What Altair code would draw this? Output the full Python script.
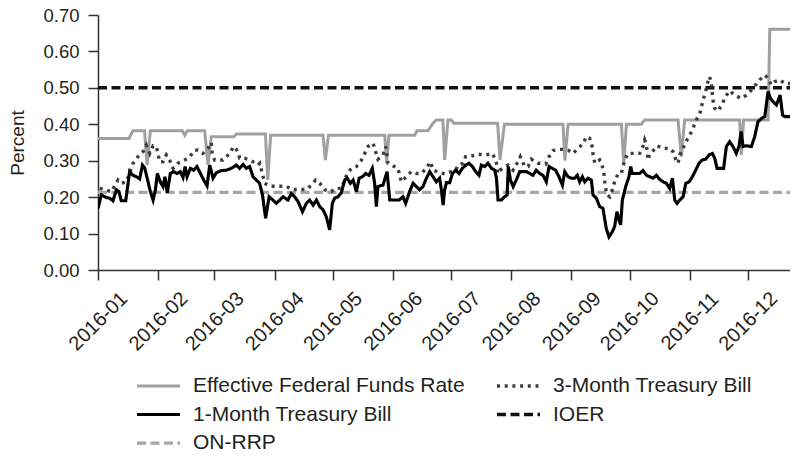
import altair as alt
import pandas as pd

START = "2016-01-01"

# legend is laid out column by column, so this order gives the reference's rows
series_order = ["Effective Federal Funds Rate", "1-Month Treasury Bill", "ON-RRP",
                "3-Month Treasury Bill", "IOER"]
series_colors = ["#a0a0a0", "#000000", "#a6a6a6", "#3c3c3c", "#111111"]
series_dash = [[1, 0], [1, 0], [9, 4.5], [3, 4.7], [9, 4.5]]
series_width = [3, 3.5, 3, 3, 2]

month_ticks = list(range(1, 13))
y_ticks = [0.0, 0.1, 0.2, 0.3, 0.4, 0.5, 0.6, 0.7]

# day offsets from 2016-01-01 and rates (percent)
effr_day = [0, 16, 18, 24, 25.3, 27, 43.5, 44.7, 46, 55, 56.7, 58.4, 70, 71.3, 86.3, 87.5, 89,
            116, 117.2, 118.8, 147.8, 148.8, 150, 163.2, 164.4, 170, 172.7, 174.4, 177.8, 178.7,
            180.4, 182, 183.4, 206, 207.2, 209.5, 239.7, 240.7, 242.3, 269.8, 271, 272.4, 280,
            281.8, 299, 300.7, 302.4, 330.8, 331.6, 332.8, 345.4, 346.3, 365]
effr_val = [0.361, 0.361, 0.382, 0.382, 0.288, 0.382, 0.382, 0.37, 0.382, 0.382, 0.288, 0.366,
            0.366, 0.373, 0.373, 0.247, 0.37, 0.37, 0.302, 0.37, 0.37, 0.294, 0.37, 0.37, 0.382,
            0.382, 0.403, 0.412, 0.412, 0.302, 0.412, 0.412, 0.403, 0.403, 0.302, 0.40, 0.40,
            0.30, 0.40, 0.40, 0.293, 0.40, 0.40, 0.412, 0.412, 0.311, 0.412, 0.412, 0.316, 0.412,
            0.412, 0.661, 0.661]

m1_day = [0, 1.7, 4.3, 6, 7.7, 9.5, 10.8, 12, 14.3, 16.3, 18, 19.8, 21.5, 22.9, 24.1, 25.8, 27,
          28.4, 29.6, 30.6, 32.1, 33.5, 34.5, 35.7, 37.3, 39, 40.7, 42.4, 43.8, 44.9, 45.9, 47.6,
          49.3, 51, 52.8, 54.5, 56.2, 57.6, 59.3, 61, 63.6, 66.2, 68.7, 71.3, 73, 74.8, 76.5,
          78.2, 79.9, 81.6, 83.3, 84.8, 86.4, 88.2, 90.2, 91.9, 93.7, 95.4, 97.9, 99.7, 101.4,
          103.1, 105.4, 107.4, 109.1, 110.9, 112.6, 114.3, 116, 117.7, 119.4, 120.8, 122, 123.7,
          125.4, 127.2, 128.4, 130.1, 131.5, 133.2, 134.6, 136.3, 138, 139.7, 141.4, 142.6,
          143.5, 144.3, 146.9, 149, 150.4, 153, 155.2, 157.2, 158.6, 160.6, 162.4, 164.1, 165.8,
          167.5, 169.3, 171, 172.7, 174.4, 176.1, 177, 177.9, 178.7, 179.6, 181.3, 182.7, 184.4,
          186.1, 187.8, 189.5, 191.2, 193, 194.7, 196.4, 197.6, 199.3, 201, 202.8, 204.5, 205.4,
          206.2, 207.9, 209.6, 210.9, 211.5, 212.6, 214, 215.6, 217.4, 219.1, 220.8, 222.5,
          224.2, 225.9, 227.7, 229.4, 231.1, 232.5, 234.2, 235.9, 237.6, 239.4, 240.6, 242.3,
          244, 245.7, 247.1, 248.3, 249.7, 250.9, 252.6, 254.3, 255.2, 256.9, 258.6, 260.3, 262,
          263.4, 265.1, 266.3, 267.5, 268.6, 269.4, 270.3, 272, 273.7, 274.6, 275.4, 277.5,
          279.2, 280.9, 282.7, 284.4, 286.1, 287.8, 289.5, 291.3, 293, 294.7, 296.1, 297.3,
          298.5, 299.9, 301.6, 303, 304.7, 306.4, 308.1, 309.8, 311.5, 313.2, 315, 316.7, 317.9,
          319.1, 320.8, 322.5, 323.9, 325.6, 327.3, 329, 330.4, 331.5, 332.5, 334.2, 336.8,
          338.5, 340.2, 342, 343.7, 345.4, 346.6, 348, 349.7, 351.6, 352.9, 354.1, 355.8, 357.4,
          358.3, 359.2, 360, 361]
m1_val = [0.169, 0.206, 0.199, 0.197, 0.19, 0.22, 0.215, 0.19, 0.19, 0.27, 0.26, 0.256, 0.25,
          0.288, 0.28, 0.242, 0.215, 0.192, 0.22, 0.265, 0.242, 0.229, 0.256, 0.212, 0.265,
          0.27, 0.265, 0.27, 0.254, 0.284, 0.256, 0.279, 0.274, 0.284, 0.265, 0.247, 0.231,
          0.288, 0.252, 0.267, 0.273, 0.274, 0.279, 0.288, 0.279, 0.29, 0.279, 0.284, 0.256,
          0.247, 0.238, 0.206, 0.142, 0.201, 0.192, 0.183, 0.192, 0.201, 0.192, 0.21, 0.201,
          0.188, 0.16, 0.183, 0.192, 0.178, 0.192, 0.174, 0.165, 0.146, 0.11, 0.183, 0.197,
          0.201, 0.212, 0.247, 0.252, 0.238, 0.247, 0.215, 0.252, 0.256, 0.265, 0.26, 0.279,
          0.238, 0.174, 0.229, 0.233, 0.27, 0.192, 0.192, 0.192, 0.201, 0.183, 0.215, 0.238,
          0.229, 0.22, 0.229, 0.252, 0.27, 0.256, 0.242, 0.252, 0.22, 0.178, 0.22, 0.24, 0.24,
          0.265, 0.274, 0.265, 0.279, 0.288, 0.293, 0.284, 0.27, 0.26, 0.288, 0.284, 0.293,
          0.279, 0.274, 0.252, 0.192, 0.192, 0.201, 0.206, 0.284, 0.247, 0.229, 0.247, 0.27,
          0.27, 0.27, 0.265, 0.26, 0.274, 0.265, 0.26, 0.242, 0.284, 0.279, 0.274, 0.256, 0.233,
          0.27, 0.256, 0.252, 0.252, 0.26, 0.242, 0.256, 0.242, 0.252, 0.247, 0.206, 0.197,
          0.174, 0.169, 0.114, 0.091, 0.105, 0.119, 0.16, 0.137, 0.124, 0.192, 0.229, 0.256,
          0.284, 0.265, 0.265, 0.265, 0.273, 0.26, 0.256, 0.252, 0.26, 0.249, 0.242, 0.238,
          0.224, 0.252, 0.192, 0.183, 0.192, 0.201, 0.238, 0.242, 0.256, 0.274, 0.293, 0.302,
          0.304, 0.316, 0.32, 0.307, 0.279, 0.279, 0.279, 0.339, 0.352, 0.339, 0.32, 0.339,
          0.38, 0.339, 0.341, 0.339, 0.366, 0.407, 0.416, 0.421, 0.49, 0.471, 0.462, 0.453,
          0.48, 0.425, 0.421, 0.421, 0.421, 0.476, 0.467, 0.389, 0.389]

m3_day = [0.9, 6.9, 10.3, 12, 14.6, 16, 18.1, 20.6, 23.2, 24.9, 26.7, 28.4, 30.1, 30.9, 31.8,
          33.5, 35.2, 36.9, 38.7, 41.2, 44.7, 47.3, 49.8, 51.6, 54.1, 56.7, 58.4, 58.9, 60.1,
          62.7, 64.4, 66.2, 67.9, 69.9, 72.2, 73, 75.6, 77.8, 79.9, 82.5, 83.4, 85.1, 85.9,
          88.5, 92.8, 97.1, 99.7, 101.4, 105.7, 107.4, 110, 112.2, 114.3, 116.9, 120.3, 122,
          125.5, 128.4, 130.6, 133.2, 135.8, 137.5, 139.2, 141.8, 143.1, 144.3, 146.9, 148.3,
          149.5, 151.2, 154.6, 156.4, 158.9, 161.5, 164.1, 166.7, 169.3, 171.3, 172.8, 176.1,
          178.7, 182.1, 184.4, 185.6, 188.2, 189.5, 191.6, 195.9, 198.5, 200.2, 203.3, 204.5,
          205.4, 206.2, 207.1, 208.8, 211.4, 214, 216, 217.7, 220, 221.7, 223.4, 225.1, 226.8,
          228.6, 230.8, 232.5, 234.6, 238, 239.7, 242.3, 244.9, 247.4, 250, 251.7, 253.4, 254.7,
          255.2, 256.1, 258.6, 259.5, 260.7, 261.2, 261.7, 262.4, 263.8, 265.1, 266.3, 268,
          269.8, 271.5, 273.2, 275.5, 279.2, 280.9, 281.8, 282.7, 283.5, 284.4, 285.8, 288.2,
          291.3, 294.7, 296.4, 297.8, 299, 299.9, 301.6, 303, 304.7, 306.7, 308.4, 310.2, 311.9,
          313.2, 314.4, 315.3, 316.2, 317, 317.9, 319.6, 321.8, 323.5, 325.6, 328.2, 331.6,
          334.2, 336.8, 339, 341.1, 343.7, 345.4, 347.1, 348.8, 351.4, 354, 356.5, 359.1, 361]
m3_val = [0.224, 0.215, 0.247, 0.238, 0.242, 0.261, 0.293, 0.311, 0.325, 0.343, 0.32, 0.341,
          0.338, 0.32, 0.297, 0.297, 0.316, 0.302, 0.279, 0.293, 0.302, 0.311, 0.329, 0.329,
          0.32, 0.334, 0.35, 0.32, 0.302, 0.302, 0.302, 0.311, 0.32, 0.339, 0.325, 0.307, 0.307,
          0.302, 0.297, 0.288, 0.293, 0.256, 0.238, 0.23, 0.23, 0.23, 0.221, 0.221, 0.221,
          0.221, 0.233, 0.247, 0.238, 0.22, 0.215, 0.224, 0.224, 0.264, 0.279, 0.284, 0.302,
          0.32, 0.339, 0.348, 0.325, 0.304, 0.316, 0.339, 0.293, 0.288, 0.279, 0.242, 0.256,
          0.27, 0.265, 0.265, 0.279, 0.297, 0.274, 0.267, 0.264, 0.27, 0.274, 0.288, 0.293,
          0.311, 0.311, 0.318, 0.316, 0.316, 0.32, 0.307, 0.293, 0.265, 0.274, 0.279, 0.288,
          0.274, 0.293, 0.311, 0.284, 0.284, 0.304, 0.297, 0.293, 0.293, 0.291, 0.311, 0.328,
          0.331, 0.331, 0.329, 0.32, 0.334, 0.346, 0.366, 0.362, 0.339, 0.316, 0.293, 0.302,
          0.293, 0.27, 0.242, 0.224, 0.206, 0.201, 0.22, 0.242, 0.264, 0.266, 0.302, 0.32, 0.32,
          0.32, 0.339, 0.357, 0.343, 0.302, 0.318, 0.325, 0.341, 0.334, 0.334, 0.325, 0.304,
          0.293, 0.316, 0.334, 0.352, 0.366, 0.389, 0.412, 0.43, 0.467, 0.49, 0.517, 0.531,
          0.508, 0.467, 0.444, 0.436, 0.456, 0.476, 0.492, 0.48, 0.471, 0.48, 0.494, 0.508,
          0.522, 0.535, 0.526, 0.508, 0.517, 0.522, 0.512, 0.512, 0.517, 0.522]

ioer_day = [0, 365]
ioer_val = [0.50, 0.50]
onrrp_day = [0, 365]
onrrp_val = [0.213, 0.213]


def frame(name, days, vals):
    t = pd.Timestamp(START) + pd.to_timedelta(days, unit="D")
    return pd.DataFrame({"date": t.strftime("%Y-%m-%dT%H:%M:%SZ"),
                         "rate": vals, "series": name})


frames = {
    "ON-RRP": frame("ON-RRP", onrrp_day, onrrp_val),
    "IOER": frame("IOER", ioer_day, ioer_val),
    "Effective Federal Funds Rate": frame("Effective Federal Funds Rate", effr_day, effr_val),
    "3-Month Treasury Bill": frame("3-Month Treasury Bill", m3_day, m3_val),
    "1-Month Treasury Bill": frame("1-Month Treasury Bill", m1_day, m1_val),
}
draw_order = ["ON-RRP", "IOER", "Effective Federal Funds Rate",
              "3-Month Treasury Bill", "1-Month Treasury Bill"]

x_enc = alt.X(
    "date:T",
    scale=alt.Scale(
        type="utc", nice=False,
        domain=[alt.DateTime(year=2016, month=1, date=1, utc=True),
                alt.DateTime(year=2016, month=12, date=22, hours=17, utc=True)]),
    axis=alt.Axis(
        values=[alt.DateTime(year=2016, month=m, date=1, utc=True) for m in month_ticks],
        format="%Y-%m", labelAngle=-45, labelAlign="center", labelBaseline="middle",
        labelPadding=41, tickSize=10, labelFlush=False, labelOverlap=False,
        labelFontSize=20, title=None, grid=False),
)
y_enc = alt.Y(
    "rate:Q",
    scale=alt.Scale(domain=[0, 0.7], nice=False, zero=True),
    axis=alt.Axis(values=y_ticks, format=".2f", title="Percent", tickSize=10,
                  labelPadding=9, labelFontSize=18.5, grid=False, titleFontSize=19,
                  titleFontWeight="normal", titleAngle=270, titleX=-74.5, titleY=127.5,
                  titleAlign="center", titleBaseline="alphabetic"),
)
legend = alt.Legend(title=None, orient="none", legendX=37, legendY=361, columns=2,
                    symbolType="stroke", symbolSize=1849, labelFontSize=21, labelOffset=11,
                    columnPadding=30, rowPadding=7.5, clipHeight=20, labelLimit=500,
                    padding=0)
color_enc = alt.Color("series:N", scale=alt.Scale(domain=series_order, range=series_colors),
                      legend=legend)
dash_enc = alt.StrokeDash("series:N", scale=alt.Scale(domain=series_order, range=series_dash),
                          legend=legend)
width_enc = alt.StrokeWidth("series:N", scale=alt.Scale(domain=series_order, range=series_width),
                            legend=legend)

layers = [
    alt.Chart(frames[s]).mark_line(clip=True, strokeCap="butt", strokeJoin="miter").encode(
        x=x_enc, y=y_enc, color=color_enc, strokeDash=dash_enc, strokeWidth=width_enc)
    for s in draw_order
]

chart = alt.layer(*layers).properties(
    width=692, height=255,
    padding={"left": 90, "top": 7, "right": 0, "bottom": 183},
    autosize=alt.AutoSizeParams(type="none"),
).configure(font="Liberation Sans").configure_axis(
    labelFont="Liberation Sans", labelColor="#231f20",
    titleFont="Liberation Sans", titleColor="#231f20",
    domainColor="#333333", domainWidth=1.5, tickColor="#333333", tickWidth=1.5,
).configure_legend(
    labelFont="Liberation Sans", labelColor="#231f20",
).configure_view(stroke=None)

chart.save("out.html", embed_options={"renderer": "svg", "actions": False})
